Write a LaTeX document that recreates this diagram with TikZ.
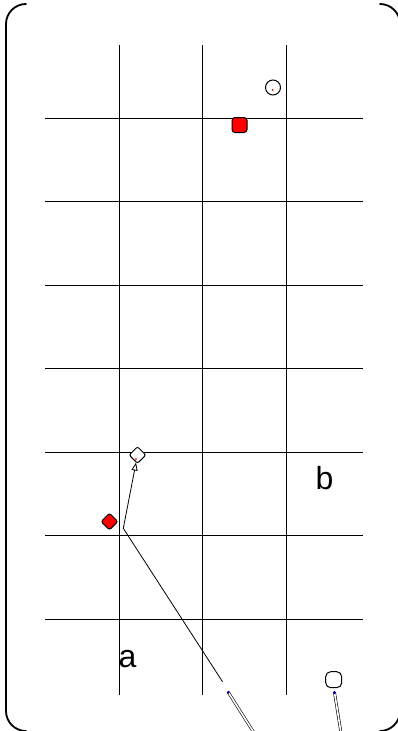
\documentclass[tikz,border=0pt]{standalone}
\usepackage{fontspec}
\setmainfont{Liberation Sans}
\usetikzlibrary{arrows.meta, positioning, shapes.geometric}
\definecolor{MarkRed}{RGB}{255, 0, 0}
\definecolor{DotBlue}{RGB}{0, 0, 170}

\begin{document}
\begin{tikzpicture}[x=1pt, y=-1pt,
    gridline/.style={black, line width=0.8pt},
    framepart/.style={black, line width=1.8pt, line cap=round},
    marker/.style={draw=black, line width=1pt, inner sep=0pt},
    wire/.style={black, line width=0.6pt, double=white, double distance=1.6pt},
    letter/.style={font=\fontsize{32}{32}\selectfont, inner sep=0pt}]
  \useasboundingbox (0,0) rectangle (398,731);
  \draw[framepart] (26,4) arc[start angle=270, end angle=180, radius=20]
       -- (6,711) arc[start angle=180, end angle=90, radius=20];
  \draw[framepart] (380,4) arc[start angle=270, end angle=360, radius=20];
  \draw[framepart] (400,711) arc[start angle=0, end angle=90, radius=20];
  \foreach \x in {119.3, 202.8, 286.3}
    \draw[gridline] (\x,45) -- (\x,694.5);
  \foreach \y in {118.3, 201.8, 285.3, 368.8, 452.3, 535.8, 619.3}
    \draw[gridline] (45,\y) -- (362.7,\y);

  \node[marker, rectangle, rounded corners=3pt, fill=MarkRed, minimum size=15pt] (redbox) at (239.5,125) {};
  \node[marker, circle, fill=white, minimum size=15pt] (ringtop) at (273,87.5) {};
  \fill[MarkRed] (272.5,90) circle (1pt);
  \node[marker, diamond, rounded corners=2pt, fill=white, minimum size=17pt] (whitegem) at (137.5,455) {};
  \fill[MarkRed] (136,459) circle (1pt);
  \node[marker, diamond, rounded corners=2pt, fill=MarkRed, minimum size=17pt] (redgem) at (109.5,521.5) {};
  \node[marker, rectangle, rounded corners=5pt, fill=white, minimum size=16pt] (ringlow) at (333.7,679.7) {};

  \coordinate (bend) at (123.3,528.3);
  \coordinate (cutA) at (222.5,681.7);
  \draw[black, line width=0.8pt, -{Triangle[open, length=8pt, width=6pt]}] (cutA) -- (bend) -- (whitegem);

  \coordinate (dotA) at (228.3,692.3);
  \coordinate (outA) at (256,736);
  \coordinate (dotB) at (334.5,692.5);
  \coordinate (outB) at (341.5,736);
  \draw[wire] (dotA) -- (outA);
  \draw[wire] (dotB) -- (outB);
  \fill[DotBlue] (dotA) circle (1.6pt);
  \fill[DotBlue] (dotB) circle (1.6pt);

  \node[letter] (labela) at (127.5,659) {a};
  \node[letter] (labelb) at (324.5,478) {b};
\end{tikzpicture}
\end{document}
